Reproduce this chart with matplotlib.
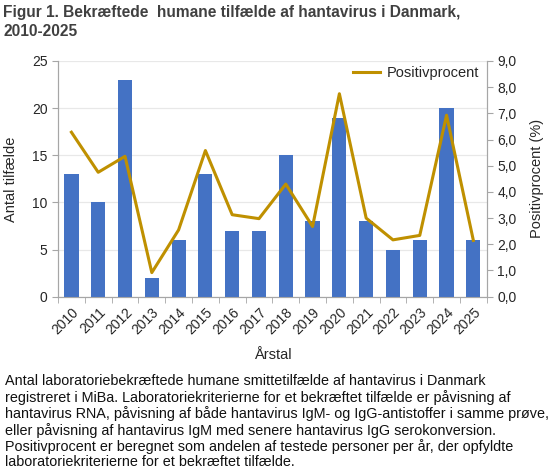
import numpy as np
import matplotlib
matplotlib.use("Agg")
import matplotlib.pyplot as plt
from matplotlib.ticker import FuncFormatter, FixedLocator

years = [str(y) for y in range(2010, 2026)]
cases = [13, 10, 23, 2, 6, 13, 7, 7, 15, 8, 19, 8, 5, 6, 20, 6]
positive_pct = [6.28, 4.75, 5.36, 0.92, 2.55, 5.58, 3.13, 2.98,
                4.30, 2.68, 7.75, 3.00, 2.17, 2.34, 6.93, 2.15]

title = "Figur 1. Bekræftede  humane tilfælde af hantavirus i Danmark,\n2010-2025"
caption = ("Antal laboratoriebekræftede humane smittetilfælde af hantavirus i Danmark\n"
           "registreret i MiBa. Laboratoriekriterierne for et bekræftet tilfælde er påvisning af\n"
           "hantavirus RNA, påvisning af både hantavirus IgM- og IgG-antistoffer i samme prøve,\n"
           "eller påvisning af hantavirus IgM med senere hantavirus IgG serokonversion.\n"
           "Positivprocent er beregnet som andelen af testede personer per år, der opfyldte\n"
           "laboratoriekriterierne for et bekræftet tilfælde.")

bar_color = "#4472C4"
line_color = "#BF9000"
axis_color = "#A6A6A6"
text_color = "#262626"

plt.rcParams["font.family"] = ["Liberation Sans", "DejaVu Sans"]

fig = plt.figure(figsize=(5.5, 4.75), dpi=100)
ax = fig.add_axes([0.1055, 0.3754, 0.7795, 0.4962])
ax2 = ax.twinx()

x = np.arange(len(years))
ax.bar(x, cases, width=0.53, color=bar_color, zorder=3)
ax.set_xlim(-0.5, len(years) - 0.5)
ax.set_ylim(0, 25)
ax.set_yticks(range(0, 26, 5))
ax.grid(axis="y", color="#E8E8E8", linewidth=0.9, zorder=0)
ax.set_axisbelow(True)

ax.set_xticks(x)
ax.set_xticklabels(years, rotation=45, ha="right", rotation_mode="anchor",
                   fontsize=10, color=text_color)
ax.xaxis.set_minor_locator(FixedLocator(np.arange(-0.5, len(years), 1.0)))
ax.tick_params(axis="x", which="major", length=0, pad=6)
ax.tick_params(axis="x", which="minor", length=4, color=axis_color)
ax.tick_params(axis="y", length=4, color=axis_color, labelsize=10,
               labelcolor=text_color)

ln, = ax2.plot(x, positive_pct, color=line_color, linewidth=2.2,
               label="Positivprocent", zorder=4)
ax2.set_ylim(0, 9)
ax2.set_yticks(np.arange(0, 9.1, 1.0))
ax2.yaxis.set_major_formatter(FuncFormatter(lambda v, p: f"{v:.1f}".replace(".", ",")))
ax2.tick_params(axis="y", length=4, color=axis_color, labelsize=10,
                labelcolor=text_color)

for a in (ax, ax2):
    a.spines["top"].set_visible(False)
    for s in ("left", "right", "bottom"):
        a.spines[s].set_color(axis_color)

ax.set_xlabel("Årstal", fontsize=10.5, color=text_color, labelpad=8)
ax.set_ylabel("Antal tilfælde", fontsize=10.5, color=text_color, labelpad=10)
ax2.set_ylabel("Positivprocent (%)", fontsize=10.5, color=text_color, labelpad=10)

ax2.legend(handles=[ln], loc="upper right", frameon=False, fontsize=10.5,
           bbox_to_anchor=(1.013, 1.035), handlelength=1.85, handletextpad=0.5,
           labelcolor=text_color)

fig.text(0.006, 0.99, title, ha="left", va="top", fontsize=11.2,
         fontweight="bold", color="#404040", linespacing=1.35)
fig.text(0.009, 0.212, caption, ha="left", va="top", fontsize=10.4,
         color="#111111", linespacing=1.12)

fig.savefig("out.png", dpi=100)
